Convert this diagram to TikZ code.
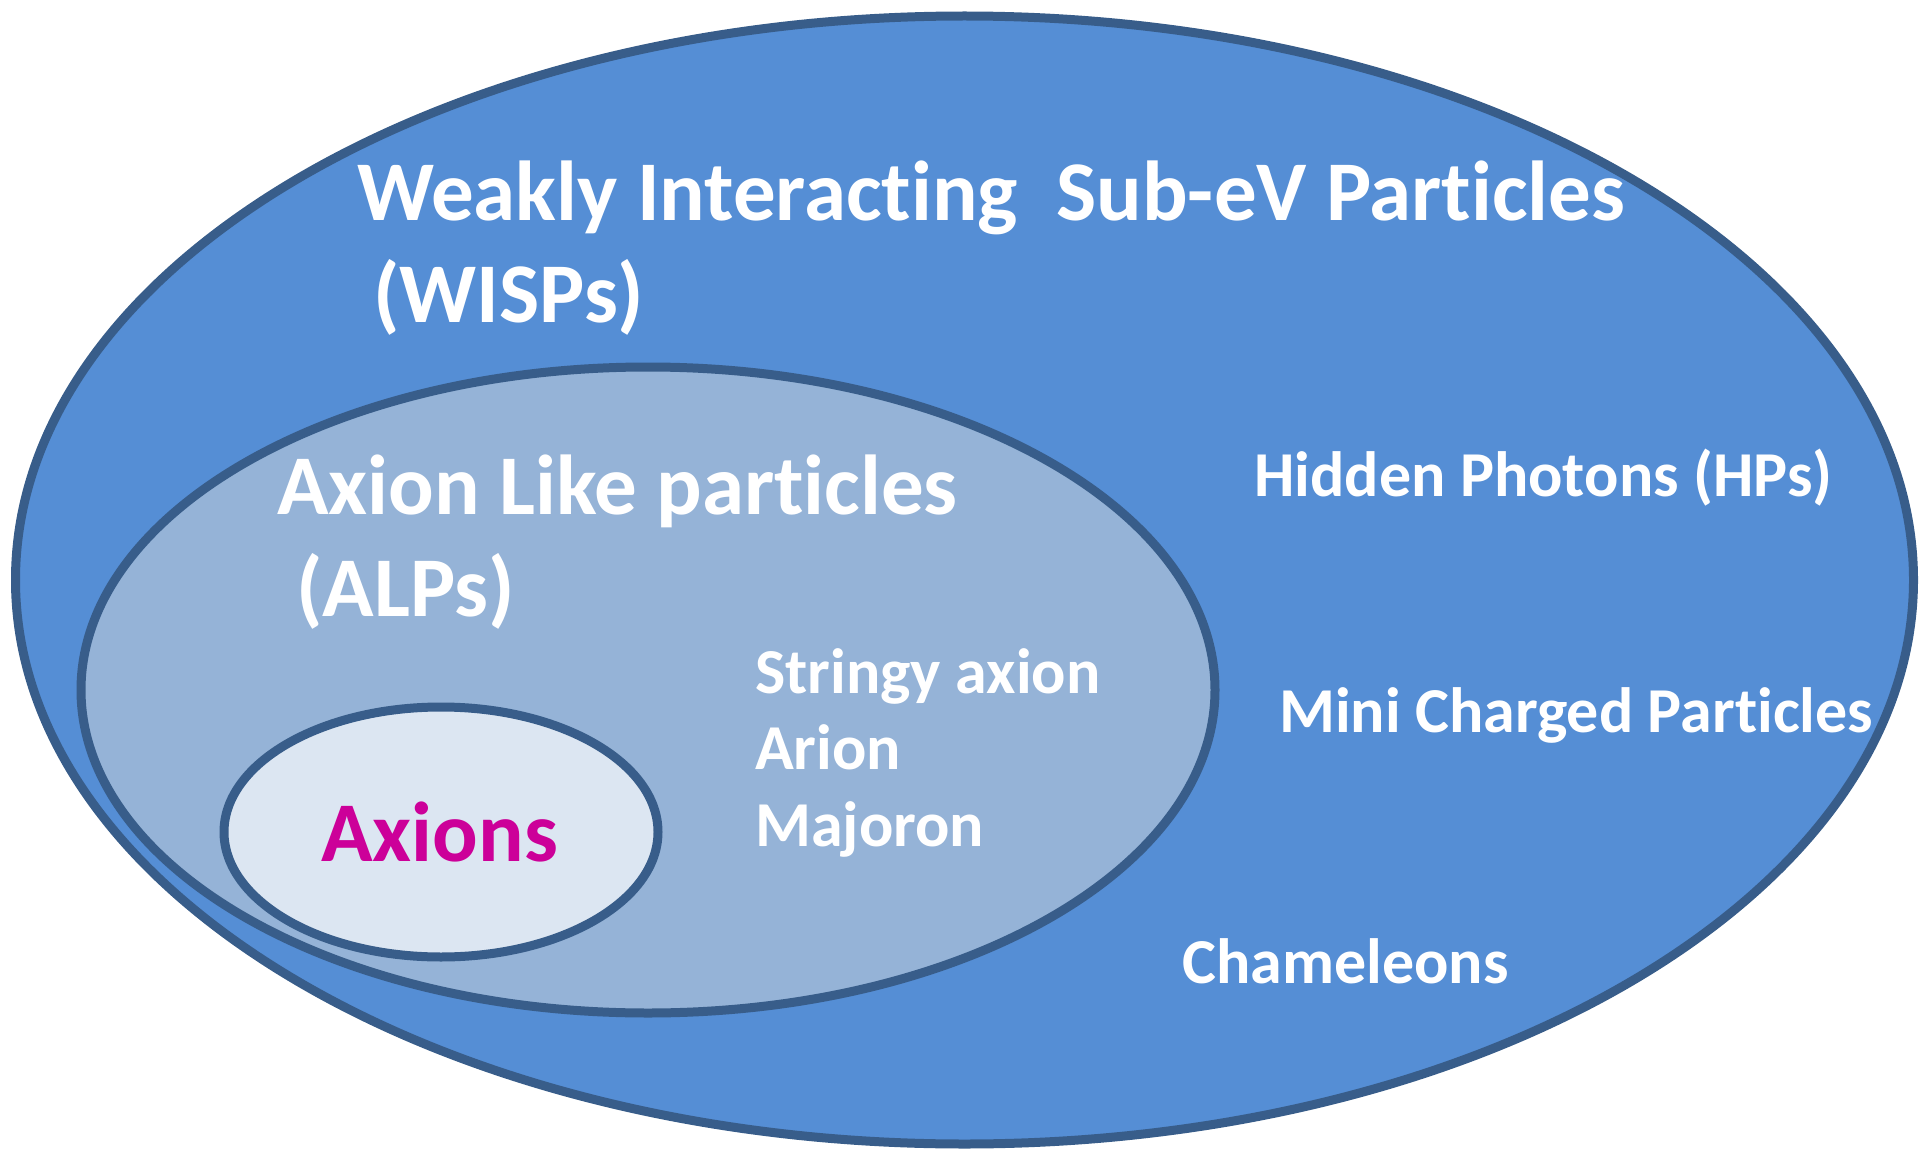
\documentclass[tikz,border=0pt]{standalone}
\usepackage{fontspec}
\setmainfont{Carlito}[RawFeature={-liga;-clig;-calt;-dlig}]
\definecolor{outerblue}{HTML}{558ED5}
\definecolor{midblue}{HTML}{95B3D7}
\definecolor{innerblue}{HTML}{DCE6F2}
\definecolor{rimblue}{HTML}{385D8A}
\definecolor{axionpink}{HTML}{CC0099}
\begin{document}
\begin{tikzpicture}[x=1pt,y=-1pt,
  rim/.style={draw=rimblue,line width=9pt},
  lbl/.style={anchor=base west,inner sep=0pt,text=white,font=\bfseries\fontsize{64}{77}\selectfont},
  biglbl/.style={lbl,font=\bfseries\fontsize{85}{102}\selectfont}]
\useasboundingbox (0,0) rectangle (1920,1153);
\filldraw[rim,fill=outerblue] (964.5,580) ellipse [x radius=949pt,y radius=564pt];
\filldraw[rim,fill=midblue] (648,690) ellipse [x radius=567pt,y radius=323pt];
\filldraw[rim,fill=innerblue] (441,832) ellipse [x radius=217pt,y radius=125pt];
\node[biglbl] (wisps) at (357,220) {Weakly Interact\kern0pt ing\ \ Sub-eV Part\kern0pt icles};
\node[biglbl] (wispsb) at (373,322) {(WISPs)};
\node[biglbl] (alps) at (277,514) {Axion Like part\kern0pt icles};
\node[biglbl] (alpsb) at (296,616) {(ALPs)};
\node[biglbl,text=axionpink] (axions) at (321,861) {Axions};
\node[lbl] (stringy) at (755,693) {Stringy axion};
\node[lbl] (arion) at (755,769) {Arion};
\node[lbl] (majoron) at (755,846) {Majoron};
\node[lbl] (hps) at (1254,496) {Hidden Photons (HPs)};
\node[lbl] (mcp) at (1279,732) {Mini Charged Part\kern0pt icles};
\node[lbl] (cham) at (1182,983) {Chameleons};
\end{tikzpicture}
\end{document}
